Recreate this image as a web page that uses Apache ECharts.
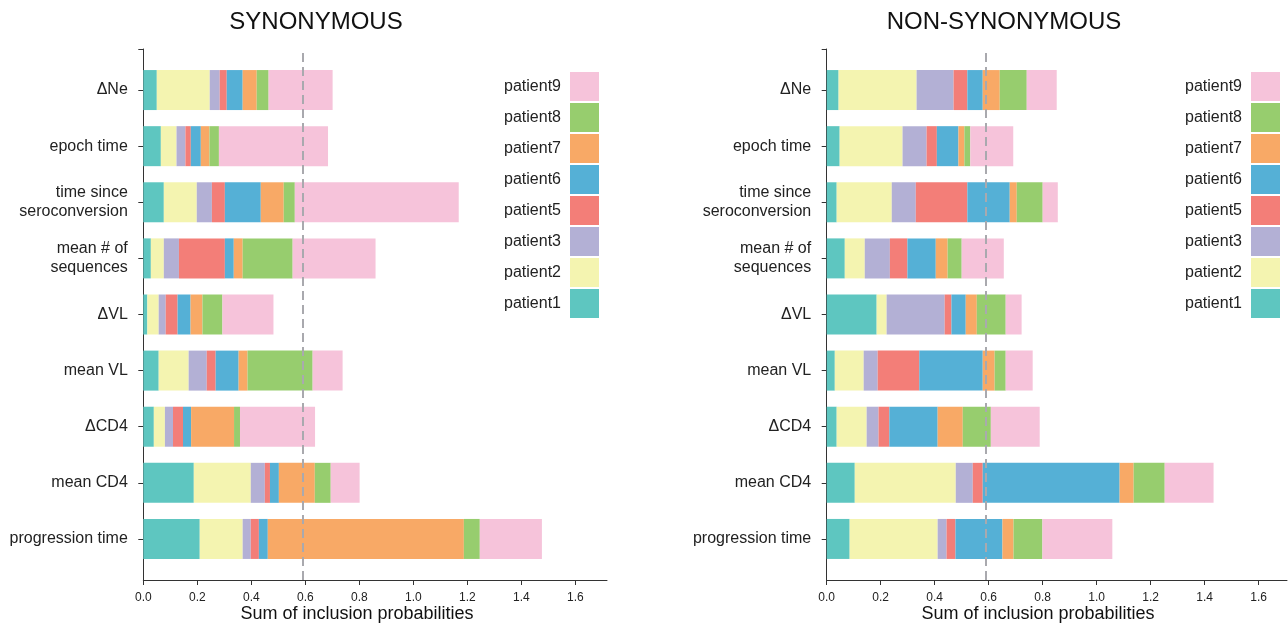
<!DOCTYPE html>
<html>
<head>
<meta charset="utf-8">
<script src="https://cdn.jsdelivr.net/npm/echarts@6/dist/echarts.min.js"></script>
<style>
  html, body { margin: 0; padding: 0; background: #fff; }
  #main { width: 1288px; height: 631px; }
</style>
</head>
<body>
<div id="main"></div>
<script>
// rows, top to bottom
const categories = ['ΔNe', 'epoch time', 'time since\nseroconversion', 'mean # of\nsequences', 'ΔVL', 'mean VL', 'ΔCD4', 'mean CD4', 'progression time'];
const patients = ['patient1', 'patient2', 'patient3', 'patient5', 'patient6', 'patient7', 'patient8', 'patient9'];
const colors = ['#5ec6c0', '#f4f4b0', '#b3b0d5', '#f37e78', '#55b0d6', '#f8a966', '#97cd6e', '#f6c3da'];
const xTicks = [0, 0.2, 0.4, 0.6, 0.8, 1.0, 1.2, 1.4, 1.6];
const threshold = 0.59;

// SYNONYMOUS, one array per patient (same row order as categories)
const syn_p1 = [0.050, 0.065, 0.076, 0.028, 0.015, 0.057, 0.039, 0.187, 0.209];
const syn_p2 = [0.196, 0.058, 0.122, 0.048, 0.042, 0.111, 0.041, 0.211, 0.159];
const syn_p3 = [0.037, 0.033, 0.056, 0.056, 0.026, 0.067, 0.030, 0.052, 0.030];
const syn_p5 = [0.026, 0.020, 0.048, 0.170, 0.044, 0.033, 0.037, 0.019, 0.030];
const syn_p6 = [0.059, 0.037, 0.133, 0.033, 0.048, 0.085, 0.030, 0.033, 0.033];
const syn_p7 = [0.052, 0.032, 0.085, 0.033, 0.044, 0.033, 0.159, 0.133, 0.726];
const syn_p8 = [0.044, 0.035, 0.041, 0.185, 0.074, 0.241, 0.022, 0.059, 0.059];
const syn_p9 = [0.237, 0.404, 0.607, 0.307, 0.189, 0.111, 0.278, 0.107, 0.230];

// NON-SYNONYMOUS
const non_p1 = [0.044, 0.048, 0.037, 0.067, 0.185, 0.030, 0.037, 0.104, 0.085];
const non_p2 = [0.289, 0.233, 0.204, 0.074, 0.037, 0.107, 0.111, 0.374, 0.326];
const non_p3 = [0.137, 0.089, 0.089, 0.093, 0.215, 0.052, 0.044, 0.063, 0.033];
const non_p5 = [0.051, 0.038, 0.191, 0.065, 0.025, 0.154, 0.040, 0.037, 0.033];
const non_p6 = [0.057, 0.080, 0.157, 0.105, 0.053, 0.235, 0.179, 0.507, 0.174];
const non_p7 = [0.063, 0.022, 0.026, 0.044, 0.041, 0.044, 0.093, 0.052, 0.041];
const non_p8 = [0.100, 0.022, 0.096, 0.052, 0.107, 0.041, 0.104, 0.115, 0.107];
const non_p9 = [0.111, 0.159, 0.056, 0.156, 0.059, 0.100, 0.181, 0.181, 0.259];

const synData = [syn_p1, syn_p2, syn_p3, syn_p5, syn_p6, syn_p7, syn_p8, syn_p9];
const nonData = [non_p1, non_p2, non_p3, non_p5, non_p6, non_p7, non_p8, non_p9];

const FONT = "'Liberation Sans', Arial, Helvetica, sans-serif";
const INK = '#222';
const AXIS = '#333';

// two panels: bars grid + frame grid (frame is a bit taller, like the d3 axis)
const panels = [
  { left: 143.3, width: 463.7, max: 1.717, data: synData, stack: 'syn' },
  { left: 826.7, width: 460.3, max: 1.705, data: nonData, stack: 'non' }
];

let grid = [], xAxis = [], yAxis = [], series = [];
panels.forEach((p, i) => {
  grid.push({ left: p.left, width: p.width, top: 62, height: 505 });
  grid.push({ left: p.left, width: p.width, top: 49, height: 531 });

  // hidden x axis for the bars
  xAxis.push({
    gridIndex: i * 2, type: 'value', min: 0, max: p.max, show: false
  });
  // visible x axis on the frame
  xAxis.push({
    gridIndex: i * 2 + 1, type: 'value', min: 0, max: p.max,
    axisLine: { show: true, onZero: false, lineStyle: { color: AXIS, width: 1 } },
    axisTick: { show: true, length: 5, customValues: xTicks, lineStyle: { color: AXIS } },
    axisLabel: {
      show: true, customValues: xTicks, margin: 12, fontSize: 12, color: INK, fontFamily: FONT,
      formatter: function (v) { return v.toFixed(1); }
    },
    splitLine: { show: false }
  });

  yAxis.push({
    gridIndex: i * 2, type: 'category', data: categories, inverse: true,
    axisLine: { show: false },
    axisTick: { show: true, alignWithLabel: true, length: 5, lineStyle: { color: AXIS } },
    axisLabel: {
      interval: 0, margin: 15.5, fontSize: 16, lineHeight: 19, color: INK, fontFamily: FONT, align: 'right'
    }
  });
  yAxis.push({
    gridIndex: i * 2 + 1, type: 'value', min: 0, max: 1,
    axisLine: { show: true, onZero: false, lineStyle: { color: AXIS, width: 1 } },
    axisTick: { show: true, length: 5, customValues: [1], lineStyle: { color: AXIS } },
    axisLabel: { show: false },
    splitLine: { show: false }
  });

  p.data.forEach((vals, k) => {
    series.push({
      name: patients[k],
      type: 'bar',
      stack: p.stack,
      xAxisIndex: i * 2,
      yAxisIndex: i * 2,
      barWidth: 40,
      itemStyle: { color: colors[k] },
      data: vals
    });
  });

  // dashed threshold line, over the bars
  series.push({
    name: 'threshold' + i,
    type: 'line',
    xAxisIndex: i * 2 + 1,
    yAxisIndex: i * 2 + 1,
    z: 10,
    data: [],
    markLine: {
      silent: true,
      symbol: 'none',
      label: { show: false },
      lineStyle: { type: [9, 5], color: '#a9a9ae', width: 2 },
      data: [{ xAxis: threshold }]
    }
  });
});

const legendNames = patients.slice().reverse();
function legendAt(right) {
  return {
    orient: 'vertical', right: right, top: 67,
    align: 'right', icon: 'rect',
    itemWidth: 29, itemHeight: 29, itemGap: 2,
    selectedMode: false,
    textStyle: { fontSize: 16, color: INK, fontFamily: FONT, padding: [0, 4, 0, 0] },
    data: legendNames
  };
}

let myChart = echarts.init(document.getElementById('main'));
myChart.setOption({
  animation: false,
  backgroundColor: '#fff',
  textStyle: { fontFamily: FONT },
  color: colors,
  title: [
    { text: 'SYNONYMOUS', left: 316, top: 10, padding: 0, textAlign: 'center', textVerticalAlign: 'top',
      textStyle: { fontSize: 24, fontWeight: 'normal', color: '#111', fontFamily: FONT } },
    { text: 'NON-SYNONYMOUS', left: 1004, top: 10, padding: 0, textAlign: 'center', textVerticalAlign: 'top',
      textStyle: { fontSize: 24, fontWeight: 'normal', color: '#111', fontFamily: FONT } },
    { text: 'Sum of inclusion probabilities', left: 357, top: 605, padding: 0, textAlign: 'center', textVerticalAlign: 'top',
      textStyle: { fontSize: 18, fontWeight: 'normal', color: '#111', fontFamily: FONT } },
    { text: 'Sum of inclusion probabilities', left: 1038, top: 605, padding: 0, textAlign: 'center', textVerticalAlign: 'top',
      textStyle: { fontSize: 18, fontWeight: 'normal', color: '#111', fontFamily: FONT } }
  ],
  legend: [legendAt(684), legendAt(3)],
  grid: grid,
  xAxis: xAxis,
  yAxis: yAxis,
  series: series
});
window.addEventListener('resize', function () { myChart.resize(); });
</script>
</body>
</html>
